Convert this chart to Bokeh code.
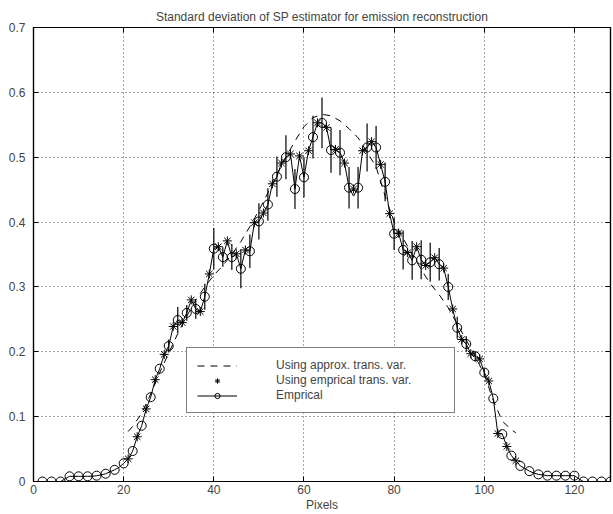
import numpy as np
from bokeh.plotting import figure
from bokeh.models import (ColumnDataSource, FixedTicker, LinearAxis, Legend,
                          LegendItem, Range1d)
from bokeh.embed import file_html
from bokeh.resources import INLINE

# ---------------- data ----------------
x_ticks = [0, 20, 40, 60, 80, 100, 120]
y_ticks = [0, 0.1, 0.2, 0.3, 0.4, 0.5, 0.6, 0.7]
y_tick_labels = ["0", "0.1", "0.2", "0.3", "0.4", "0.5", "0.6", "0.7"]

# Empirical std, every pixel 2..128 (circles drawn on the even pixels)
emp_x = list(range(2, 129))
emp_y = [
    0, 0, 0, 0, 0, 0.004, 0.008, 0.008, 0.008, 0.008, 0.008, 0.008,       # 2-13
    0.009, 0.010, 0.012, 0.015, 0.018, 0.022, 0.028, 0.035, 0.047, 0.069,  # 14-23
    0.086, 0.112, 0.130, 0.157, 0.174, 0.196, 0.209, 0.239, 0.249, 0.245,  # 24-33
    0.260, 0.280, 0.266, 0.262, 0.285, 0.320, 0.359, 0.362, 0.346, 0.371,  # 34-43
    0.346, 0.351, 0.328, 0.357, 0.355, 0.399, 0.401, 0.414, 0.427, 0.459,  # 44-53
    0.470, 0.491, 0.500, 0.505, 0.451, 0.502, 0.469, 0.510, 0.531, 0.553,  # 54-63
    0.553, 0.546, 0.511, 0.512, 0.507, 0.491, 0.453, 0.440, 0.453, 0.510,  # 64-73
    0.515, 0.524, 0.515, 0.489, 0.462, 0.413, 0.382, 0.383, 0.357, 0.353,  # 74-83
    0.341, 0.362, 0.342, 0.333, 0.338, 0.345, 0.335, 0.329, 0.300, 0.266,  # 84-93
    0.237, 0.219, 0.212, 0.197, 0.193, 0.189, 0.168, 0.155, 0.128, 0.074,  # 94-103
    0.073, 0.054, 0.040, 0.032, 0.024, 0.020, 0.016, 0.013, 0.011, 0.010,  # 104-113
    0.009, 0.009, 0.009, 0.009, 0.009, 0.009, 0.009, 0.004, 0, 0,         # 114-123
    0, 0, 0, 0, 0,                                                          # 124-128
]
# error half-lengths at the circle pixels 2,4,...,128
emp_err = [
    0, 0, 0, 0, 0, 0, 0, 0, 0, 0, 0, 0, 0, 0,                              # 2-28
    0.010, 0.020, 0.012, 0.015, 0.020, 0.032, 0.015, 0.020, 0.030, 0.026,  # 30-48
    0.028, 0.025, 0.031, 0.034, 0.031, 0.031, 0.033, 0.039, 0.035, 0.035,  # 50-68
    0.032, 0.032, 0.037, 0.033, 0.030, 0.025, 0.030, 0.030, 0.030, 0.030,  # 70-88
    0.025, 0.020, 0.017, 0.012, 0.008, 0.006,                              # 90-100
    0, 0, 0, 0, 0, 0, 0, 0, 0, 0, 0, 0, 0, 0,                              # 102-128
]

# Using empirical transmission variance (odd pixels 21..107)
star_x = list(range(21, 108, 2))
star_y = [
    0.035, 0.069, 0.112, 0.157, 0.196, 0.239, 0.245, 0.280, 0.262, 0.320,
    0.362, 0.371, 0.351, 0.357, 0.399, 0.414, 0.459, 0.491, 0.505, 0.502,
    0.510, 0.553, 0.546, 0.512, 0.491, 0.451, 0.510, 0.524, 0.489, 0.413,
    0.383, 0.353, 0.362, 0.333, 0.345, 0.329, 0.266, 0.219, 0.197, 0.189,
    0.155, 0.074, 0.054, 0.032,
]

# Using approximate transmission variance
approx_x = [21, 22, 24, 26, 28, 30, 32, 34, 36, 38, 40, 42, 44, 46, 48, 50,
            52, 54, 56, 58, 60, 62, 64, 66, 68, 70, 72, 74, 76, 78, 80, 82,
            84, 86, 88, 90, 92, 94, 96, 98, 100, 102, 104, 106, 107]
approx_y = [0.077, 0.085, 0.105, 0.135, 0.168, 0.198, 0.228, 0.255, 0.280,
            0.300, 0.318, 0.333, 0.350, 0.370, 0.393, 0.418, 0.445, 0.473,
            0.500, 0.525, 0.547, 0.561, 0.566, 0.564, 0.556, 0.544, 0.530,
            0.508, 0.485, 0.440, 0.400, 0.375, 0.350, 0.327, 0.305, 0.288,
            0.268, 0.243, 0.218, 0.193, 0.165, 0.125, 0.093, 0.080, 0.075]

FONT = "Liberation Sans"

# ---------------- figure ----------------
p = figure(width=613, height=514, x_range=Range1d(0, 128), y_range=Range1d(0, 0.7),
           output_backend="svg", toolbar_location=None,
           title="Standard deviation of SP estimator for emission reconstruction",
           min_border_left=33, min_border_right=3, min_border_top=27,
           min_border_bottom=32)
p.background_fill_color = "white"
p.border_fill_color = "white"
p.outline_line_color = "black"
p.outline_line_width = 1.2

p.title.text_font = FONT
p.title.text_font_size = "12px"
p.title.text_font_style = "normal"
p.title.align = "center"
p.title.standoff = 8

# axes
for ax in (p.xaxis[0], p.yaxis[0]):
    ax.major_tick_in = 5
    ax.major_tick_out = 0
    ax.minor_tick_line_color = None
    ax.axis_line_width = 1.2
    ax.major_label_text_font = FONT
    ax.major_label_text_font_size = "12px"
    ax.axis_label_text_font = FONT
    ax.axis_label_text_font_size = "12px"
    ax.axis_label_text_font_style = "normal"
p.xaxis[0].ticker = FixedTicker(ticks=x_ticks)
p.yaxis[0].ticker = FixedTicker(ticks=y_ticks)
p.yaxis[0].major_label_overrides = {t: s for t, s in zip(y_ticks, y_tick_labels)}
p.xaxis[0].axis_label = "Pixels"
p.xaxis[0].major_label_standoff = 3
p.xaxis[0].axis_label_standoff = 1
p.yaxis[0].major_label_standoff = 8

top = LinearAxis(ticker=FixedTicker(ticks=x_ticks),
                 major_label_overrides={t: "" for t in x_ticks},
                 major_tick_in=5, major_tick_out=0, minor_tick_line_color=None,
                 major_label_standoff=0, axis_line_width=1.2)
right = LinearAxis(ticker=FixedTicker(ticks=y_ticks),
                   major_label_overrides={t: "" for t in y_ticks},
                   major_tick_in=5, major_tick_out=0, minor_tick_line_color=None,
                   major_label_standoff=0, axis_line_width=1.2)
p.add_layout(top, "above")
p.add_layout(right, "right")

p.xgrid.ticker = FixedTicker(ticks=x_ticks)
p.ygrid.ticker = FixedTicker(ticks=y_ticks)
p.grid.grid_line_color = "black"
p.grid.grid_line_alpha = 0.7
p.grid.grid_line_dash = "1 3"
p.grid.grid_line_width = 1

# ---------------- glyphs ----------------
emp_src = ColumnDataSource(dict(x=emp_x, y=emp_y))
circ_x = emp_x[::2]
circ_y = emp_y[::2]
cy = np.array(circ_y)
ce = np.array(emp_err)
circ_src = ColumnDataSource(dict(x=circ_x, y=circ_y, lo=cy - ce, hi=cy + ce))

dash_r = p.line(approx_x, approx_y, line_color="black", line_width=1, line_dash="7 6")
p.segment(x0="x", y0="lo", x1="x", y1="hi", source=circ_src, line_color="black",
          line_width=1.2)
line_r = p.line("x", "y", source=emp_src, line_color="black", line_width=1)
circ_r = p.scatter("x", "y", source=circ_src, marker="circle", size=9,
                   fill_color=None, line_color="black", line_width=1)
star_r = p.scatter(star_x, star_y, marker="asterisk", size=9, line_color="black",
                   line_width=1)

legend = Legend(items=[
    LegendItem(label="Using approx. trans. var.", renderers=[dash_r]),
    LegendItem(label="Using emprical trans. var.", renderers=[star_r]),
    LegendItem(label="Emprical", renderers=[line_r, circ_r]),
], location=(153, 68))
legend.border_line_color = "black"
legend.border_line_width = 1.5
legend.background_fill_color = "white"
legend.background_fill_alpha = 1
legend.padding = 10
legend.spacing = 1
legend.margin = 0
legend.label_height = 13
legend.glyph_height = 13
legend.glyph_width = 40
legend.label_standoff = 39
legend.label_width = 168
legend.label_text_font = FONT
legend.label_text_font_size = "12px"
p.add_layout(legend)

open("out.html", "w").write(file_html(p, INLINE))
